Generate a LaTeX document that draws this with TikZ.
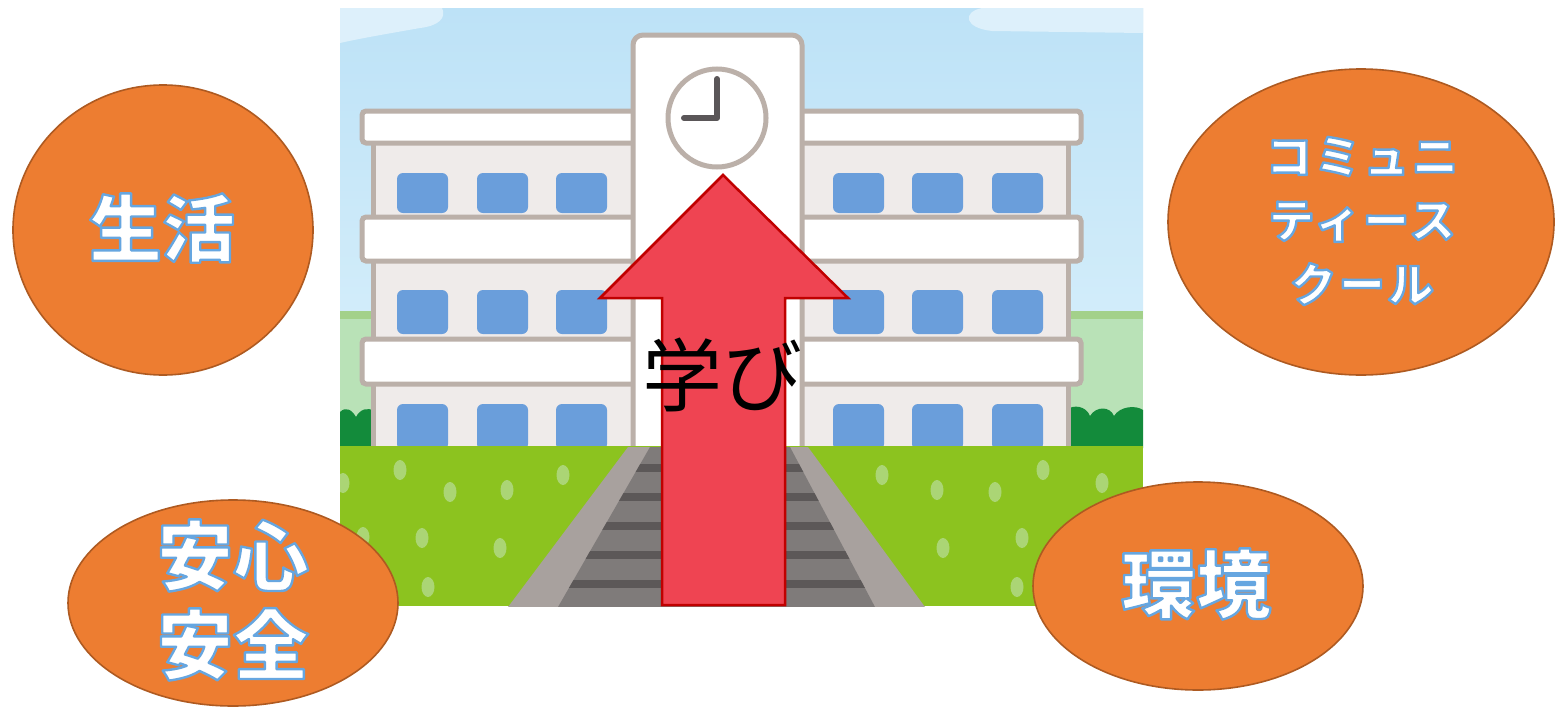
\documentclass[tikz,border=0pt]{standalone}
\usepackage{fontspec}
\usetikzlibrary{calc,shapes.geometric}
\newfontfamily\jp{Noto Sans CJK JP}
\newfontfamily\jpsp{Noto Sans CJK JP}[LetterSpace=6]

\definecolor{sky}{HTML}{BDE2F7}
\definecolor{skylow}{HTML}{D3EDFA}
\definecolor{cloud}{HTML}{DDF0FB}
\definecolor{field}{HTML}{B9E2B7}
\definecolor{fieldtop}{HTML}{A3D18A}
\definecolor{shrub}{HTML}{138B3B}
\definecolor{grass}{HTML}{8CC31F}
\definecolor{spot}{HTML}{ABD575}
\definecolor{walkedge}{HTML}{A8A19E}
\definecolor{walk}{HTML}{7F7B7A}
\definecolor{stripe}{HTML}{5C5858}
\definecolor{outline}{HTML}{BBB0A9}
\definecolor{wall}{HTML}{EFEBEA}
\definecolor{win}{HTML}{6A9EDB}
\definecolor{hand}{HTML}{5A5658}
\definecolor{arrowfill}{HTML}{EF4452}
\definecolor{arrowline}{HTML}{C00000}
\definecolor{bubble}{HTML}{ED7D31}
\definecolor{bubbleline}{HTML}{AE5A21}

% white letters with a blue rim: glyphs are filled and stroked in one pass
\newcommand\rimon{\special{pdf:literal direct 0.40 0.65 0.88 RG 2.4 w 1 j 2 Tr}}
\newcommand\rimoff{\special{pdf:literal direct 0 Tr}}

\tikzset{
  bubblenode/.style={ellipse, fill=bubble, draw=bubbleline, line width=1.6pt, inner sep=0pt},
  lbl/.style={inner sep=0pt, align=center, text=white},
  slab/.style={fill=white, draw=outline, line width=5pt, rounded corners=4pt},
  wing/.style={fill=wall, draw=outline, line width=5pt},
  window/.style={fill=win, rounded corners=6pt},
  grassspot/.style={fill=spot},
}

\begin{document}
\begin{tikzpicture}[x=1pt,y=-1pt]
\useasboundingbox[fill=white] (0,0) rectangle (1560,707);

% ---------------- school scene ----------------
\begin{scope}
\clip (340,8) rectangle (1143,606);
% sky and clouds
\shade[top color=sky, bottom color=skylow] (340,8) rectangle (1143,330);
\fill[cloud] (340,8) -- (442,8) .. controls (447,18) and (438,26) .. (420,28)
  .. controls (392,33) and (362,38) .. (340,43) -- cycle;
\fill[cloud] (982,8) .. controls (962,12) and (964,28) .. (992,31)
  -- (1143,33) -- (1143,8) -- cycle;
% distant field
\fill[fieldtop] (340,311) rectangle (1143,320);
\fill[field] (340,319) rectangle (1143,448);
% hedges
\fill[shrub] (340,448) -- (340,412) .. controls (346,406) and (352,410) .. (356,417)
  .. controls (360,409) and (368,407) .. (374,411) -- (374,448) -- cycle;
\fill[shrub] (1066,448) -- (1066,410) .. controls (1074,404) and (1086,406) .. (1090,416)
  .. controls (1096,406) and (1110,406) .. (1114,416)
  .. controls (1120,406) and (1136,405) .. (1143,410) -- (1143,448) -- cycle;

% wings
\filldraw[wing] (373,128) rectangle (640,452);
\filldraw[wing] (795,128) rectangle (1068,452);
% windows
\foreach \wx in {397,477,556,833,912,992}{
  \foreach \wy/\wh in {173/40,290/44,404/46}{
    \fill[window] (\wx,\wy) rectangle ++(51,\wh);
  }
}
% floor slabs
\foreach \sy/\sh in {111/32,217/44,339/45}{
  \filldraw[slab] (362,\sy) rectangle (640,\sy+\sh);
  \filldraw[slab] (795,\sy) rectangle (1081,\sy+\sh);
}
% clock tower
\filldraw[fill=white, draw=outline, line width=5pt, rounded corners=10pt]
  (633,452) -- (633,35) -- (802,35) -- (802,452);
\draw[outline, line width=5pt] (717,118) circle [radius=49];
\draw[hand, line width=6pt, line cap=round, line join=round] (717,79) -- (717,118) -- (684,118);

% lawn
\fill[grass] (340,446) rectangle (1143,606);
\foreach \px/\py in {343/483,400/470,450/492,507/490,563/475,363/537,422/538,500/548,428/587,
                     882/475,937/490,995/492,1043/470,1102/483,943/548,1022/538,1017/587,1135/540}{
  \fill[grassspot] (\px,\py) ellipse [x radius=6.5, y radius=10];
}
% footpath
\fill[walkedge] (628,447) -- (808,447) -- (925,607) -- (508,607) -- cycle;
\begin{scope}
  \clip (650,447) -- (790,447) -- (875,607) -- (558,607) -- cycle;
  \fill[walk] (540,447) rectangle (900,607);
  \foreach \ty in {467.5,497,526,555,584}{
    \fill[stripe] (540,\ty-4) rectangle (900,\ty+4);
  }
\end{scope}
\end{scope}

% ---------------- upward arrow ----------------
\coordinate (tip) at (723,175);
\filldraw[fill=arrowfill, draw=arrowline, line width=2.5pt, line join=miter]
  (tip) -- (848,298) -- (785,298) -- (785,605) -- (662,605) -- (662,298) -- (600,298) -- cycle;
\node[inner sep=0pt, font=\jp\fontsize{80}{80}\selectfont, text=black] (learn) at (722,375) {学び};

% ---------------- orange bubbles ----------------
\node[bubblenode, minimum width=300pt, minimum height=290pt] (life) at (163,230) {};
\node[bubblenode, minimum width=386pt, minimum height=306pt] (community) at (1361,222) {};
\node[bubblenode, minimum width=330pt, minimum height=206pt] (safety) at (233,603) {};
\node[bubblenode, minimum width=330pt, minimum height=208pt] (env) at (1198,586) {};

\node[lbl, font=\jp\bfseries\fontsize{73}{73}\selectfont] (lifetext) at (162,228) {\rimon 生活\rimoff};
\node[lbl, font=\jpsp\bfseries\fontsize{46}{64}\selectfont] (commtext) at (1362,221)
  {\rimon コミュニ\\\rimon ティース\\\rimon クール\rimoff};
\node[lbl, font=\jp\bfseries\fontsize{76}{89}\selectfont] (safetytext) at (233,600)
  {\rimon 安心\\\rimon 安全\rimoff};
\node[lbl, font=\jp\bfseries\fontsize{75}{75}\selectfont] (envtext) at (1196,584) {\rimon 環境\rimoff};

\end{tikzpicture}
\end{document}
